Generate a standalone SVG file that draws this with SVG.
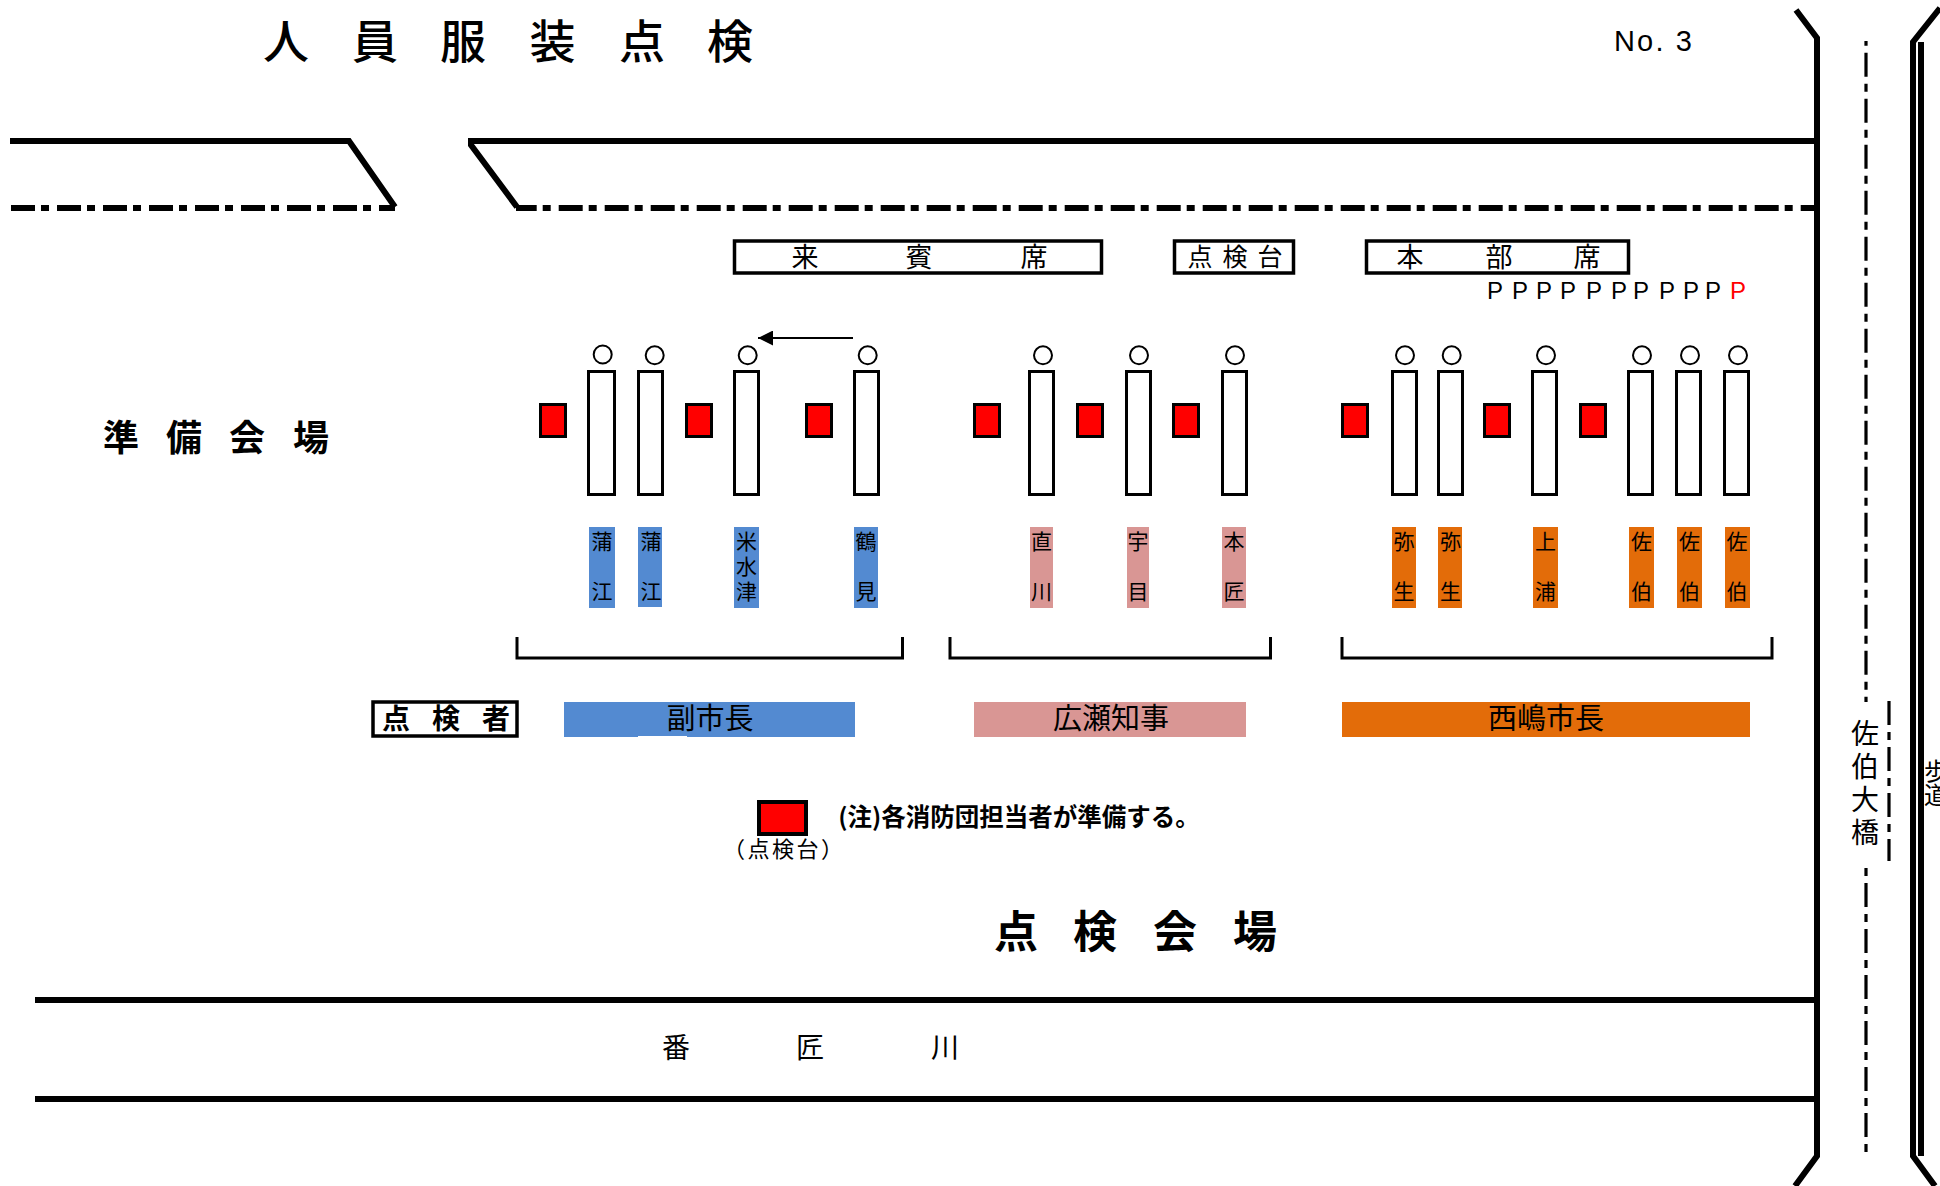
<svg xmlns="http://www.w3.org/2000/svg" width="1940" height="1186" viewBox="0 0 1940 1186">
<style>
text{font-family:"Noto Sans CJK JP","Liberation Sans",sans-serif;fill:#000;text-anchor:middle}
.latin{font-family:"Liberation Sans",Arial,sans-serif}
.road{fill:none;stroke:#000;stroke-width:6}
.dd{fill:none;stroke:#000;stroke-width:6;stroke-dasharray:24 6 8 8}
.cl{fill:none;stroke:#000;stroke-width:3.2;stroke-dasharray:24 7 8 7}
.box{fill:#fff;stroke:#000;stroke-width:3.5}
.seat{fill:#fff;stroke:#000;stroke-width:3}
.tb{fill:#f00;stroke:#000;stroke-width:3}
.c{fill:#fff;stroke:#000;stroke-width:2}
.lb{fill:#538ad1}.lp{fill:#d99694}.lo{fill:#e36c09}
.n{font-size:21px}
.band{font-size:29px}
.br{fill:none;stroke:#000;stroke-width:3}
</style>
<defs>
<marker id="ah" markerWidth="15" markerHeight="15" refX="15" refY="7.500" orient="auto" markerUnits="userSpaceOnUse"><path d="M0 0L15 7.500L0 15Z" fill="#000"/></marker>
</defs>
<rect width="1940" height="1186" fill="#fff"/>
<g id="connectors">
<path class="road" d="M10 141H349L395 207"/>
<path class="dd" d="M11 208H395"/>
<path class="road" d="M1817 141H471V145L517 207"/>
<path class="dd" stroke-dashoffset="3.300" d="M516 208H1815"/>
<path class="road" d="M1796 10L1817 38V1156L1795 1186"/>
<path class="road" d="M1940 8L1913 42V1156L1935 1186"/>
<path class="road" d="M1921 42V1156"/>
<path class="road" d="M35 1000H1817"/>
<path class="road" d="M35 1099H1817"/>
<path class="cl" stroke-dashoffset="34.300" d="M1866 41V702"/>
<path class="cl" stroke-dashoffset="31" d="M1866 868V1153"/>
<path class="cl" d="M1889 701V861"/>
<path d="M853 338H758" fill="none" stroke="#000" stroke-width="2" marker-end="url(#ah)"/>
<path class="br" d="M517 637V658H902.500V637"/>
<path class="br" d="M950 637V658H1270.500V637"/>
<path class="br" d="M1342 637V658H1772V637"/>
</g>
<g id="title"><text font-size="46" font-weight="500" x="286 375 463 552.500 642 730" y="58">人員服装点検</text></g>
<g id="page-no"><text class="latin" font-size="29" x="1653" y="51" textLength="78">No. 3</text></g>
<g id="guest-seats"><rect class="box" x="734.500" y="241" width="367" height="32"/><text font-size="27" x="805 919 1034" y="267">来賓席</text></g>
<g id="inspection-stand"><rect class="box" x="1174.500" y="241" width="119" height="32"/><text font-size="25" x="1200 1235 1270" y="266">点検台</text></g>
<g id="hq-seats"><rect class="box" x="1366.500" y="241" width="262" height="32"/><text font-size="27" x="1410 1499 1587" y="267">本部席</text></g>
<g id="parking"><text class="latin" font-size="24" style="text-anchor:start" x="1487 1512 1536 1560 1586 1611 1633 1659 1683 1705" y="299">PPPPPPPPPP</text><text class="latin" font-size="24" style="text-anchor:start;fill:#f00" x="1730" y="299">P</text></g>
<g id="prep-venue"><text font-size="36" font-weight="700" x="121 184 247 311" y="451">準備会場</text></g>
<g id="stands">
<rect class="tb" x="540.500" y="404.500" width="25" height="32"/><rect class="tb" x="686.500" y="404.500" width="25" height="32"/><rect class="tb" x="806.500" y="404.500" width="25" height="32"/><rect class="tb" x="974.500" y="404.500" width="25" height="32"/><rect class="tb" x="1077.500" y="404.500" width="25" height="32"/><rect class="tb" x="1173.500" y="404.500" width="25" height="32"/><rect class="tb" x="1342.500" y="404.500" width="25" height="32"/><rect class="tb" x="1484.500" y="404.500" width="25" height="32"/><rect class="tb" x="1580.500" y="404.500" width="25" height="32"/>
</g>
<g id="seats">
<rect class="seat" x="588.500" y="371.500" width="26" height="123"/><rect class="seat" x="638.500" y="371.500" width="24" height="123"/><rect class="seat" x="734.500" y="371.500" width="24" height="123"/><rect class="seat" x="854.500" y="371.500" width="24" height="123"/>
<rect class="seat" x="1029.500" y="371.500" width="24" height="123"/><rect class="seat" x="1126.500" y="371.500" width="24" height="123"/><rect class="seat" x="1222.500" y="371.500" width="24" height="123"/>
<rect class="seat" x="1392.500" y="371.500" width="24" height="123"/><rect class="seat" x="1438.500" y="371.500" width="24" height="123"/><rect class="seat" x="1532.500" y="371.500" width="24" height="123"/><rect class="seat" x="1628.500" y="371.500" width="24" height="123"/><rect class="seat" x="1676.500" y="371.500" width="24" height="123"/><rect class="seat" x="1724.500" y="371.500" width="24" height="123"/>
</g>
<g id="people">
<circle class="c" cx="602.700" cy="354.500" r="9"/><circle class="c" cx="654.700" cy="355.300" r="9"/><circle class="c" cx="747.700" cy="355.300" r="9"/><circle class="c" cx="867.700" cy="355.300" r="9"/>
<circle class="c" cx="1043" cy="355.300" r="9"/><circle class="c" cx="1139" cy="355.300" r="9"/><circle class="c" cx="1235" cy="355.300" r="9"/>
<circle class="c" cx="1405" cy="355.300" r="9"/><circle class="c" cx="1451.700" cy="355.300" r="9"/><circle class="c" cx="1546" cy="355.300" r="9"/><circle class="c" cx="1642" cy="355.300" r="9"/><circle class="c" cx="1690" cy="355.300" r="9"/><circle class="c" cx="1738" cy="355.300" r="9"/>
</g>
<g id="name-labels">
<rect class="lb" x="589" y="527" width="26" height="81"/><text class="n" x="602" y="549">蒲</text><text class="n" x="602" y="599">江</text>
<rect class="lb" x="638" y="527" width="24" height="80"/><text class="n" x="651" y="549">蒲</text><text class="n" x="651" y="599">江</text>
<rect class="lb" x="734" y="527" width="25" height="81"/><text class="n" x="746.500" y="549">米</text><text class="n" x="746.500" y="574">水</text><text class="n" x="746.500" y="599">津</text>
<rect class="lb" x="854" y="527" width="24" height="81"/><text class="n" x="866" y="549">鶴</text><text class="n" x="866" y="599">見</text>
<rect class="lp" x="1030" y="527" width="23" height="81"/><text class="n" x="1041.500" y="549">直</text><text class="n" x="1041.500" y="599">川</text>
<rect class="lp" x="1127" y="527" width="22" height="81"/><text class="n" x="1138" y="549">宇</text><text class="n" x="1138" y="599">目</text>
<rect class="lp" x="1222" y="527" width="24" height="81"/><text class="n" x="1234" y="549">本</text><text class="n" x="1234" y="599">匠</text>
<rect class="lo" x="1392" y="527" width="24" height="81"/><text class="n" x="1404" y="549">弥</text><text class="n" x="1404" y="599">生</text>
<rect class="lo" x="1438" y="527" width="24" height="81"/><text class="n" x="1450.500" y="549">弥</text><text class="n" x="1450.500" y="599">生</text>
<rect class="lo" x="1533" y="527" width="25" height="81"/><text class="n" x="1545.500" y="549">上</text><text class="n" x="1545.500" y="599">浦</text>
<rect class="lo" x="1629" y="527" width="25" height="81"/><text class="n" x="1641.500" y="549">佐</text><text class="n" x="1641.500" y="599">伯</text>
<rect class="lo" x="1677" y="527" width="25" height="81"/><text class="n" x="1689.500" y="549">佐</text><text class="n" x="1689.500" y="599">伯</text>
<rect class="lo" x="1725" y="527" width="25" height="81"/><text class="n" x="1737" y="549">佐</text><text class="n" x="1737" y="599">伯</text>
</g>
<g id="inspector-label"><rect class="box" x="373" y="702" width="144" height="34"/><text font-size="28" font-weight="700" x="396 446 496" y="729">点検者</text></g>
<g id="vice-mayor"><rect class="lb" x="564" y="702" width="291" height="35"/><rect fill="#fff" x="638" y="736" width="49" height="1"/><text class="band" x="710" y="729">副市長</text></g>
<g id="governor"><rect class="lp" x="974" y="702" width="272" height="35"/><text class="band" x="1111" y="729">広瀬知事</text></g>
<g id="mayor"><rect class="lo" x="1342" y="702" width="408" height="35"/><text class="band" x="1546" y="729">西嶋市長</text></g>
<g id="legend"><rect fill="#f00" stroke="#000" stroke-width="4" x="759" y="802" width="47" height="32"/><text font-size="22" x="783" y="857" textLength="120">（点検台）</text><text font-size="24.500" font-weight="700" x="1019" y="826">(注)各消防団担当者が準備する。</text></g>
<g id="venue"><text font-size="44" font-weight="700" x="1016 1095 1175 1255" y="948">点検会場</text></g>
<g id="river"><text font-size="28" x="676 810 945" y="1058">番匠川</text></g>
<g id="bridge"><text font-size="28" x="1865 1865 1865 1865" y="744 777 810 843">佐伯大橋</text></g>
<g id="walkway"><text font-size="24" x="1936 1936" y="780 804">歩道</text></g>
</svg>
